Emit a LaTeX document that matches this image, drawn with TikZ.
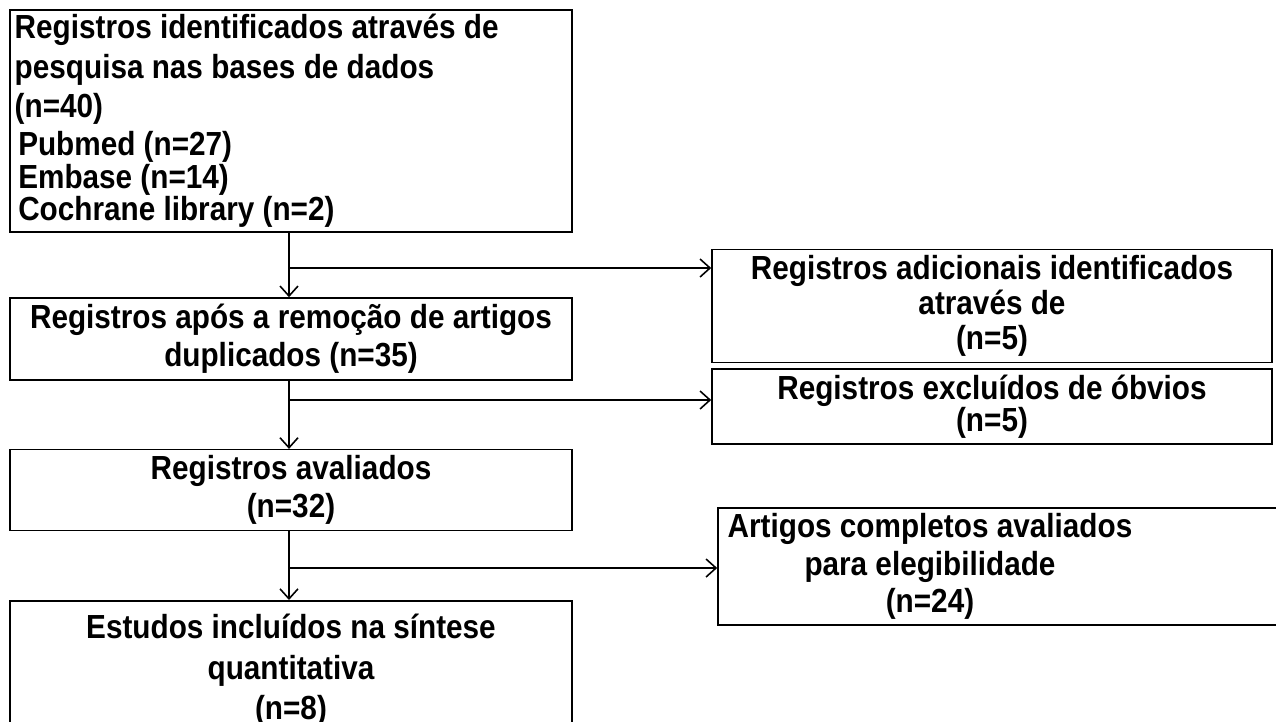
\documentclass[tikz,border=0pt]{standalone}
\usepackage{fontspec}
\setmainfont{Liberation Sans}[FakeStretch=0.89]
\usetikzlibrary{arrows.meta}

\begin{document}
\begin{tikzpicture}[
  box/.style={draw, line width=0.9pt, font=\fontsize{19}{21.5}\selectfont\bfseries},
  flow/.style={line width=0.9pt, -{Straight Barb[length=2mm,width=3.6mm]}}
  ]
  \useasboundingbox (0,0) rectangle (25.52,-14.42);

  % left column
  \node[box, minimum width=11.24cm, minimum height=4.44cm, align=left, text width=11.05cm, inner xsep=2pt,
        inner ysep=1pt, font=\fontsize{19}{18.5}\selectfont\bfseries] (ident) at (5.82,-2.42)
    {\spaceskip=0pt\xspaceskip=0pt
     Registros identificados através de\\[4pt]
     pesquisa nas bases de dados\\[4pt]
     (n=40)\\[3pt]
     \hspace*{2pt}Pubmed (n=27)\\
     \hspace*{2pt}Embase (n=14)\\
     \hspace*{2pt}Cochrane library (n=2)};
  \node[box, minimum width=11.24cm, minimum height=1.64cm, align=center] (dupl) at (5.82,-6.78)
    {Registros após a remoção de artigos\\duplicados (n=35)};
  \node[box, minimum width=11.24cm, minimum height=1.6cm, align=center] (aval) at (5.82,-9.8)
    {Registros avaliados\\(n=32)};
  \node[box, minimum width=11.24cm, minimum height=2.78cm, align=center, anchor=north,
        font=\fontsize{19}{23}\selectfont\bfseries] (incl) at (5.82,-12.0)
    {Estudos incluídos na síntese\\quantitativa\\(n=8)};

  % right column
  \node[box, minimum width=11.2cm, minimum height=2.24cm, align=center,
        font=\fontsize{19}{20}\selectfont\bfseries] (adic) at (19.84,-6.12)
    {Registros adicionais identificados\\através de\\(n=5)};
  \node[box, minimum width=11.2cm, minimum height=1.34cm, align=center,
        font=\fontsize{19}{18}\selectfont\bfseries] (excl) at (19.84,-8.13)
    {Registros excluídos de óbvios\\(n=5)};
  \node[box, minimum width=11.3cm, minimum height=2.34cm] (compl) at (20.01,-11.33) {};
  \node[font=\fontsize{19}{21.5}\selectfont\bfseries, align=center] (compltxt) at (18.6,-11.33)
    {Artigos completos avaliados\\para elegibilidade\\(n=24)};

  % branch points
  \coordinate (j1) at (5.78,-5.36);
  \coordinate (j2) at (5.78,-8.0);
  \coordinate (j3) at (5.78,-11.36);

  \draw[flow] (ident.south -| j1) -- (dupl.north -| j1);
  \draw[flow] (dupl.south -| j2) -- (aval.north -| j2);
  \draw[flow] (aval.south -| j3) -- (incl.north -| j3);
  \draw[flow] (j1) -- (j1 -| adic.west);
  \draw[flow] (j2) -- (j2 -| excl.west);
  \draw[flow] (j3) -- (j3 -| compl.west);
\end{tikzpicture}
\end{document}
